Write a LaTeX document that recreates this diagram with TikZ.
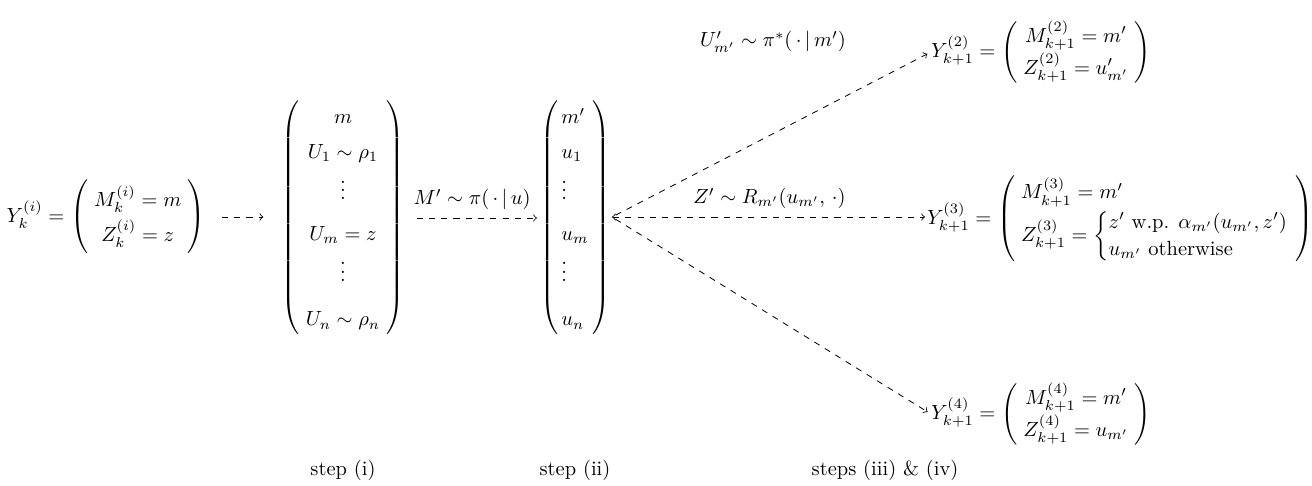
\documentclass[tikz,border=0pt]{standalone}
\usepackage{amsmath,amssymb,mathtools}
\renewcommand{\arraystretch}{1.4}
\setlength{\arraycolsep}{3pt}
\newcommand{\pvec}[2][c]{\left(\begin{array}{#1}#2\end{array}\right)}
\begin{document}
\begin{tikzpicture}[x=0.4878pt,y=-0.4878pt,
  every node/.style={inner sep=0pt, outer sep=0pt},
  darr/.style={dashed,->}]
\useasboundingbox (0,0) rectangle (1312,486);
\node (yi) at (106,217) {$Y_k^{(i)} = \pvec{M_k^{(i)} = m \\ Z_k^{(i)} = z}$};
\node (bu) at (343,218) {$\pvec{m \\ U_1 \sim \rho_1 \\ \vdots \\[3pt] U_m = z \\ \vdots \\[5pt] U_n \sim \rho_n}$};
\node (su) at (575,218) {$\pvec[@{\,}l@{\,}]{m' \\ u_1 \\ \vdots \\[3pt] u_m \\ \vdots \\[5pt] u_n}$};
\coordinate (f) at (612,217);
\node[anchor=west] (y2) at (931,52) {\renewcommand{\arraystretch}{1.3}$Y^{(2)}_{k+1} = \pvec{M^{(2)}_{k+1} = m' \\ Z^{(2)}_{k+1} = u'_{m'}}$};
\node[anchor=west] (y3) at (927,219) {$Y^{(3)}_{k+1} = \pvec[l]{M^{(3)}_{k+1} = m' \\ Z^{(3)}_{k+1} = {\renewcommand{\arraystretch}{1.1}\left\{\begin{array}{@{}l@{}} z' \text{ w.p. } \alpha_{m'}(u_{m'}, z') \\ u_{m'} \text{ otherwise} \end{array}\right.}}$};
\node[anchor=west] (y4) at (931,414) {\renewcommand{\arraystretch}{1.3}$Y^{(4)}_{k+1} = \pvec{M^{(4)}_{k+1} = m' \\ Z^{(4)}_{k+1} = u_{m'}}$};
\node (ul) at (773,42) {$U'_{m'} \sim \pi^*(\,\cdot\,|\,m')$};
\node (s1) at (343,470) {step (i)};
\node (s2) at (575,470) {step (ii)};
\node (s3) at (885,470) {steps (iii) \& (iv)};
\draw[darr, shorten <=8pt, shorten >=9pt] (yi.east) -- (yi.east -| bu.west);
\draw[darr, shorten <=6pt, shorten >=1.5pt] (bu.east) -- (su.west)
  node[midway, above=4pt] {$M' \sim \pi(\,\cdot\,|\,u)$};
\draw[dashed,<->, shorten >=1pt] (f) -- (f -| y3.west)
  node[midway, above=4pt] {$Z' \sim R_{m'}(u_{m'},\,\cdot)$};
\draw[darr, shorten <=2pt, shorten >=2pt] (f) -- (y2.west);
\draw[darr, shorten <=2pt, shorten >=2pt] (f) -- (y4.west);
\end{tikzpicture}
\end{document}
